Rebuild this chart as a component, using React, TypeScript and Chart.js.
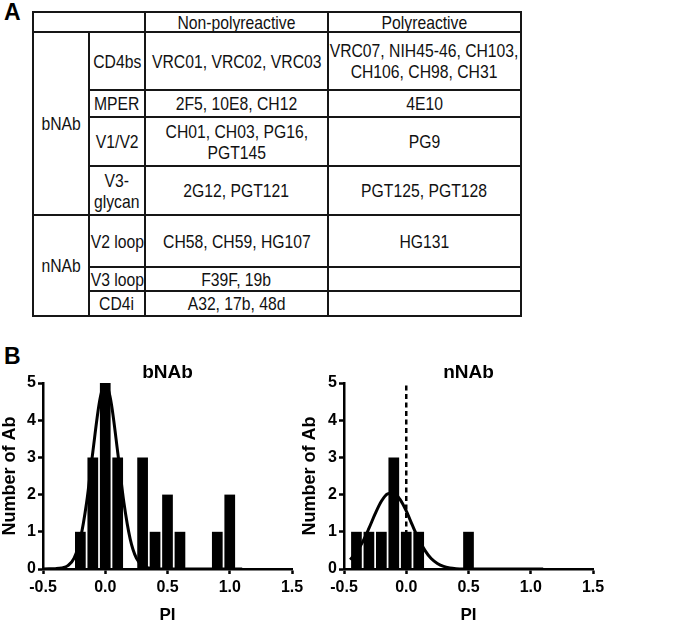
import React, { useEffect, useRef } from "react";
import { Chart, registerables } from "chart.js";

Chart.register(...registerables);

const FONT = "'Liberation Sans', Arial, Helvetica, sans-serif";
Chart.defaults.font.family = FONT;

// ---------------- Panel A: table contents ----------------
const columnHeaders = ["Non-polyreactive", "Polyreactive"];
const antibodyClasses = ["bNAb", "nNAb"];
const classRowSpans = [4, 3];
const epitopes = ["CD4bs", "MPER", "V1/V2", "V3-\nglycan", "V2 loop", "V3 loop", "CD4i"];
const nonPolyreactive = [
  "VRC01, VRC02, VRC03",
  "2F5, 10E8, CH12",
  "CH01, CH03, PG16,\nPGT145",
  "2G12, PGT121",
  "CH58, CH59, HG107",
  "F39F, 19b",
  "A32, 17b, 48d",
];
const polyreactive = [
  "VRC07, NIH45-46, CH103,\nCH106, CH98, CH31",
  "4E10",
  "PG9",
  "PGT125, PGT128",
  "HG131",
  "",
  "",
];

// ---------------- Panel B: histogram data ----------------
const xTickValues = [-0.5, 0, 0.5, 1, 1.5];
const yTickValues = [0, 1, 2, 3, 4, 5];

const bNAbBinCenters = [-0.2, -0.1, 0, 0.1, 0.2, 0.3, 0.4, 0.5, 0.6, 0.7, 0.8, 0.9, 1.0];
const bNAbCounts = [1, 3, 5, 3, 0, 3, 1, 2, 1, 0, 0, 1, 2];
const bNAbCurveX = [-0.5, -0.45, -0.4, -0.35, -0.3, -0.25, -0.2, -0.15, -0.1, -0.05, -0.025, 0, 0.025, 0.05, 0.1, 0.15, 0.2, 0.25, 0.3, 0.35, 0.4, 0.45, 0.7, 1.1];
const bNAbCurveY = [0, 0.005, 0.01, 0.03, 0.09, 0.29, 0.81, 1.78, 3.14, 4.42, 4.81, 4.95, 4.81, 4.42, 3.14, 1.78, 0.81, 0.29, 0.09, 0.03, 0.01, 0, 0, 0];

const nNAbBinCenters = [-0.4, -0.3, -0.2, -0.1, 0, 0.1, 0.2, 0.3, 0.4, 0.5];
const nNAbCounts = [1, 1, 1, 3, 1, 1, 0, 0, 0, 1];
const nNAbCurveX = [-0.45, -0.4, -0.35, -0.3, -0.25, -0.2, -0.15, -0.1, -0.05, 0, 0.05, 0.1, 0.15, 0.2, 0.25, 0.3, 0.35, 0.4, 0.45, 0.6, 0.8, 1.1];
const nNAbCurveY = [0.25, 0.45, 0.73, 1.09, 1.48, 1.82, 2.02, 2.04, 1.87, 1.56, 1.17, 0.8, 0.5, 0.28, 0.15, 0.07, 0.03, 0.01, 0, 0, 0, 0];

const zeroLineX = [0, 0];
const zeroLineY = [0, 5];

// ---------------- layout ----------------
const COL_EDGES = [33, 89, 145, 328, 521];
const ROW_EDGES = [12, 32, 90, 117, 166, 215, 267, 291, 316];

type Cell = { c1: number; c2: number; r1: number; r2: number; text: string };

function TablePanel() {
  const cells: Cell[] = [];
  cells.push({ c1: 0, c2: 2, r1: 0, r2: 1, text: "" });
  cells.push({ c1: 2, c2: 3, r1: 0, r2: 1, text: columnHeaders[0] });
  cells.push({ c1: 3, c2: 4, r1: 0, r2: 1, text: columnHeaders[1] });
  let r = 1;
  antibodyClasses.forEach((cls, k) => {
    cells.push({ c1: 0, c2: 1, r1: r, r2: r + classRowSpans[k], text: cls });
    r += classRowSpans[k];
  });
  epitopes.forEach((ep, i) => {
    cells.push({ c1: 1, c2: 2, r1: 1 + i, r2: 2 + i, text: ep });
    cells.push({ c1: 2, c2: 3, r1: 1 + i, r2: 2 + i, text: nonPolyreactive[i] });
    cells.push({ c1: 3, c2: 4, r1: 1 + i, r2: 2 + i, text: polyreactive[i] });
  });
  return (
    <>
      {cells.map((c, i) => {
        const x1 = COL_EDGES[c.c1];
        const x2 = COL_EDGES[c.c2];
        const y1 = ROW_EDGES[c.r1];
        const y2 = ROW_EDGES[c.r2];
        return (
          <div
            key={i}
            style={{
              position: "absolute",
              left: x1 - 1,
              top: y1 - 1,
              width: x2 - x1 + 2,
              height: y2 - y1 + 2,
              boxSizing: "border-box",
              border: "2px solid #161616",
              display: "flex",
              alignItems: "center",
              justifyContent: "center",
              textAlign: "center",
              whiteSpace: "pre",
              fontSize: 18.5,
              lineHeight: "21px",
              color: "#111",
            }}
          >
            {c.text ? (
              <span style={{ display: "inline-block", transform: "scaleX(0.85)", transformOrigin: "50% 50%" }}>{c.text}</span>
            ) : null}
          </div>
        );
      })}
    </>
  );
}

type HistProps = {
  left: number;
  top: number;
  width: number;
  height: number;
  plotLeft: number;
  plotRight: number;
  title: string;
  centers: number[];
  counts: number[];
  curveX: number[];
  curveY: number[];
};

function Histogram(p: HistProps) {
  const ref = useRef<HTMLCanvasElement>(null);
  useEffect(() => {
    const tickFont = { family: FONT, size: 16, weight: "bold" as const };
    const grid = {
      display: true,
      drawOnChartArea: false,
      drawTicks: true,
      tickLength: 5,
      tickWidth: 2.5,
      tickColor: "#000",
      offset: false,
    };
    const border = { display: true, color: "#000", width: 2.5 };
    const chart = new Chart(ref.current as HTMLCanvasElement, {
      type: "bar",
      data: {
        datasets: [
          {
            type: "line",
            data: zeroLineX.map((x, i) => ({ x, y: zeroLineY[i] })),
            borderColor: "#000",
            borderWidth: 2.5,
            borderDash: [5, 3.5],
            pointRadius: 0,
            fill: false,
            order: 0,
          } as any,
          {
            type: "line",
            data: p.curveX.map((x, i) => ({ x, y: p.curveY[i] })),
            borderColor: "#000",
            borderWidth: 3,
            pointRadius: 0,
            cubicInterpolationMode: "monotone",
            fill: false,
            order: 1,
          } as any,
          {
            type: "bar",
            data: p.centers.map((x, i) => ({ x, y: p.counts[i] })),
            backgroundColor: "#000",
            borderWidth: 0,
            barPercentage: 1,
            categoryPercentage: 0.86,
            order: 2,
          } as any,
        ],
      },
      options: {
        responsive: false,
        animation: false,
        devicePixelRatio: 1,
        layout: { padding: { top: 33, left: 0, right: p.width - p.plotRight, bottom: 0 } },
        plugins: {
          legend: { display: false },
          tooltip: { enabled: false },
          title: {
            display: true,
            text: p.title,
            fullSize: false,
            color: "#000",
            font: { family: FONT, size: 19, weight: "bold", lineHeight: 1 },
            padding: { top: 0, bottom: 1 },
          },
        },
        scales: {
          x: {
            type: "linear",
            min: -0.5,
            max: 1.5,
            offset: false,
            grid,
            border,
            ticks: {
              padding: 4,
              color: "#000",
              font: tickFont,
              maxRotation: 0,
              autoSkip: false,
              callback: (v: any) => Number(v).toFixed(1),
            },
            afterBuildTicks: (s: any) => {
              s.ticks = xTickValues.map((v) => ({ value: v }));
            },
            title: {
              display: true,
              text: "PI",
              color: "#000",
              font: { family: FONT, size: 17, weight: "bold", lineHeight: 1 },
              padding: { top: 0, bottom: 0 },
            },
            afterFit: (s: any) => {
              s.height = 55;
            },
          },
          y: {
            type: "linear",
            min: 0,
            max: 5,
            grid,
            border,
            ticks: {
              padding: 2,
              color: "#000",
              font: tickFont,
              callback: (v: any) => String(v),
            },
            afterBuildTicks: (s: any) => {
              s.ticks = yTickValues.map((v) => ({ value: v }));
            },
            title: {
              display: true,
              text: "Number of Ab",
              color: "#000",
              font: { family: FONT, size: 18, weight: "bold", lineHeight: 1 },
              padding: { top: 1, bottom: 0 },
            },
            afterFit: (s: any) => {
              s.width = p.plotLeft;
            },
          },
        },
      } as any,
    });
    return () => chart.destroy();
  }, []);
  return (
    <canvas
      ref={ref}
      width={p.width}
      height={p.height}
      style={{ position: "absolute", left: p.left, top: p.top, width: p.width, height: p.height }}
    />
  );
}

export default function App() {
  return (
    <div
      style={{
        position: "absolute",
        left: 0,
        top: 0,
        width: 680,
        height: 624,
        background: "#fff",
        fontFamily: FONT,
        color: "#000",
        overflow: "hidden",
      }}
    >
      <div style={{ position: "absolute", left: 4, top: 1, fontSize: 23, fontWeight: "bold", lineHeight: "23px" }}>A</div>
      <TablePanel />
      <div style={{ position: "absolute", left: 4, top: 345, fontSize: 23, fontWeight: "bold", lineHeight: "23px" }}>B</div>
      <Histogram
        left={0}
        top={330}
        width={340}
        height={294}
        plotLeft={43}
        plotRight={292}
        title="bNAb"
        centers={bNAbBinCenters}
        counts={bNAbCounts}
        curveX={bNAbCurveX}
        curveY={bNAbCurveY}
      />
      <Histogram
        left={300}
        top={330}
        width={380}
        height={294}
        plotLeft={44}
        plotRight={293}
        title="nNAb"
        centers={nNAbBinCenters}
        counts={nNAbCounts}
        curveX={nNAbCurveX}
        curveY={nNAbCurveY}
      />
    </div>
  );
}
